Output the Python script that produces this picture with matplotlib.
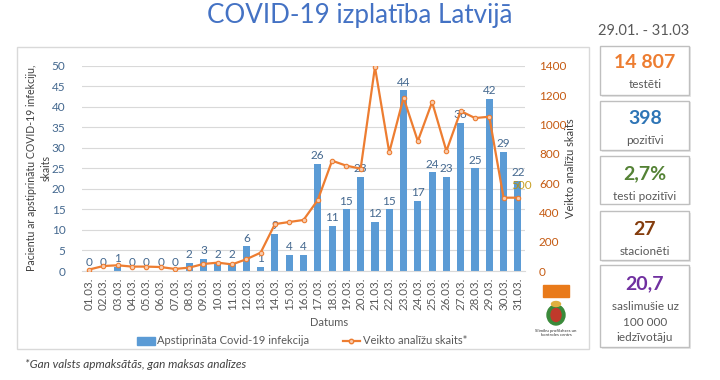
import matplotlib
matplotlib.use('Agg')
import matplotlib.pyplot as plt
from matplotlib.patches import Rectangle, Ellipse
from matplotlib.lines import Line2D

plt.rcParams['font.family'] = ['Lato', 'DejaVu Sans']

# ---------------- data ----------------
dates = ["01.03.", "02.03.", "03.03.", "04.03.", "05.03.", "06.03.", "07.03.", "08.03.",
         "09.03.", "10.03.", "11.03.", "12.03.", "13.03.", "14.03.", "15.03.", "16.03.",
         "17.03.", "18.03.", "19.03.", "20.03.", "21.03.", "22.03.", "23.03.", "24.03.",
         "25.03.", "26.03.", "27.03.", "28.03.", "29.03.", "30.03.", "31.03."]
confirmed = [0, 0, 1, 0, 0, 0, 0, 2, 3, 2, 2, 6, 1, 9, 4, 4, 26, 11, 15, 23, 12, 15,
             44, 17, 24, 23, 36, 25, 42, 29, 22]
tests = [10, 34, 39, 30, 30, 27, 14, 23, 48, 57, 45, 80, 125, 320, 334, 348, 484, 752,
         718, 698, 1391, 809, 1182, 886, 1152, 818, 1091, 1043, 1052, 500, 500]
left_ticks = [0, 5, 10, 15, 20, 25, 30, 35, 40, 45, 50]
right_ticks = [0, 200, 400, 600, 800, 1000, 1200, 1400]

stat_values = ["14 807", "398", "2,7%", "27", "20,7"]
stat_labels = ["testēti", "pozitīvi", "testi pozitīvi", "stacionēti",
               "saslimušie uz\n100 000\niedzīvotāju"]
stat_colors = ["#ED7D31", "#2E75B6", "#548235", "#843C0C", "#7030A0"]

title = "COVID-19 izplatība Latvijā"
period = "29.01. - 31.03"
footnote = "*Gan valsts apmaksātās, gan maksas analīzes"

# ---------------- layout helpers ----------------
W, H = 720, 380
fig = plt.figure(figsize=(W / 100, H / 100), dpi=100)
fig.patch.set_facecolor('white')

def fx(x):
    return x / W

def fy(y):
    return 1 - y / H

# chart frame
fig.patches.append(Rectangle((fx(17), fy(349)), (589 - 17) / W, (349 - 47) / H,
                             transform=fig.transFigure, fill=False,
                             edgecolor='#D9D9D9', linewidth=1.0))

ax = fig.add_axes([fx(82), fy(271), (525 - 82) / W, (271 - 65.7) / H])
x = list(range(len(dates)))
bar_color = '#5B9BD5'
bars = ax.bar(x, confirmed, width=0.5, color=bar_color, zorder=2)
ax.set_xlim(-0.5, len(dates) - 0.5)
ax.set_ylim(0, 50)
ax.set_yticks(left_ticks)
ax.grid(axis='y', color='#D9D9D9', linewidth=0.8, zorder=0)
ax.set_axisbelow(True)
for s in ['top', 'right', 'left']:
    ax.spines[s].set_visible(False)
ax.spines['bottom'].set_color('#D9D9D9')
ax.tick_params(axis='y', length=0, labelsize=8.5, labelcolor='#44688F', pad=12)
ax.set_xticks(x)
ax.set_xticklabels(dates, rotation=90, fontsize=8.3, color='#595959')
ax.tick_params(axis='x', length=0, pad=5)
ax.bar_label(bars, padding=2, fontsize=8.5, color='#44688F')

ax2 = ax.twinx()
line_color = '#ED7D31'
ax2.plot(x, tests, color=line_color, linewidth=1.6, marker='o', markersize=3.2,
         markerfacecolor='#F8CBAD', markeredgecolor=line_color, markeredgewidth=0.8,
         zorder=3)
ax2.set_ylim(0, 1400)
ax2.set_yticks(right_ticks)
for s in ['top', 'right', 'left', 'bottom']:
    ax2.spines[s].set_visible(False)
ax2.tick_params(axis='y', length=0, labelsize=8.5, labelcolor='#C55A11', pad=10)
ax2.annotate(str(tests[-1]), (x[-1], tests[-1]), xytext=(3, 9),
             textcoords='offset points', ha='center', va='center',
             fontsize=8.5, color='#BF9000', alpha=0.85)

# axis titles
fig.text(fx(32), fy(168), "Pacientu ar apstiprinātu COVID-19 infekciju,",
         rotation=90, ha='center', va='center', fontsize=7.6, color='#404040')
fig.text(fx(46), fy(168), "skaits", rotation=90, ha='center', va='center',
         fontsize=7.6, color='#404040')
fig.text(fx(570), fy(168), "Veikto analīžu skaits", rotation=90, ha='center',
         va='center', fontsize=8, color='#404040')
fig.text(fx(329), fy(322), "Datums", ha='center', va='center', fontsize=8,
         color='#595959')

# legend
handles = [Rectangle((0, 0), 1, 1, color=bar_color),
           Line2D([0], [0], color=line_color, linewidth=1.6, marker='o',
                  markersize=3.2, markerfacecolor='#F8CBAD',
                  markeredgecolor=line_color)]
leg = fig.legend(handles, ["Apstiprināta Covid-19 infekcija", "Veikto analīžu skaits*"],
                 loc='center', bbox_to_anchor=(fx(302), fy(341)), ncol=2,
                 frameon=False, fontsize=8, handlelength=1.6, handletextpad=0.2,
                 columnspacing=3.0, borderaxespad=0)
for t in leg.get_texts():
    t.set_color('#595959')

# orange rectangle and logo
fig.patches.append(Rectangle((fx(543), fy(297)), 26 / W, 12.5 / H,
                             transform=fig.transFigure, color='#E97A1A'))
fig.patches.append(Ellipse((fx(556), fy(315)), 18 / W, 20 / H,
                           transform=fig.transFigure, color='#3A8A3A'))
fig.patches.append(Ellipse((fx(556), fy(315)), 10 / W, 13 / H,
                           transform=fig.transFigure, color='#C0392B'))
fig.patches.append(Ellipse((fx(556), fy(304)), 9 / W, 5 / H,
                           transform=fig.transFigure, color='#E0B040'))
fig.text(fx(556), fy(333), "Slimību profilakses un\nkontroles centrs",
         ha='center', va='center', fontsize=3.2, color='#333333', linespacing=1.1)

# title and period
fig.text(fx(360), fy(16), title, ha='center', va='center', fontsize=18.7,
         color='#4472C4')
fig.text(fx(644), fy(31), period, ha='center', va='center', fontsize=10.5,
         color='#595959')

# statistic boxes
boxes = [(46, 95), (101, 150), (156, 204), (211, 260), (265, 347)]
num_y = [63, 118.5, 174, 229.5, 284]
for (y0, y1), val, lab, col, ny in zip(boxes, stat_values, stat_labels, stat_colors, num_y):
    fig.patches.append(Rectangle((fx(602), fy(y1 + 1.5)), 89 / W, (y1 - y0) / H,
                                 transform=fig.transFigure, fill=True,
                                 facecolor='#E7E7E7', edgecolor='none'))
    fig.patches.append(Rectangle((fx(600), fy(y1)), 89 / W, (y1 - y0) / H,
                                 transform=fig.transFigure, facecolor='white',
                                 edgecolor='#BFBFBF', linewidth=1.0))
    fig.text(fx(645), fy(ny), val, ha='center', va='center', fontsize=14,
             fontweight='bold', color=col)
    fig.text(fx(645), fy(ny + 22 if '\n' not in lab else ny + 38), lab,
             ha='center', va='center', fontsize=8.5, color='#595959',
             linespacing=1.55)

fig.text(fx(25), fy(365), footnote, ha='left', va='center', fontsize=8.5,
         style='italic', color='#404040')

fig.savefig('out.png', dpi=100, facecolor='white')
